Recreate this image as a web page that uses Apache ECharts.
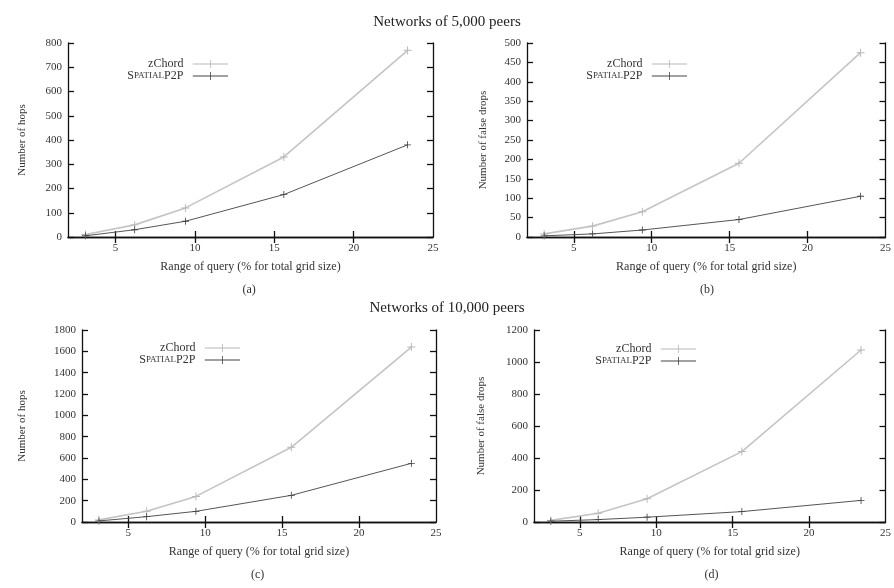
<!DOCTYPE html>
<html>
<head>
<meta charset="utf-8">
<script src="https://cdn.jsdelivr.net/npm/echarts@6/dist/echarts.min.js"></script>
<style>
  html, body { margin: 0; padding: 0; background: #fff; }
  #chart { width: 894px; height: 588px; }
</style>
</head>
<body>
<div id="chart"></div>
<script>
// query range (% for total grid size)
const queryRange = [3.1, 6.2, 9.4, 15.6, 23.4];
const xTicks = [5, 10, 15, 20, 25];

// (a) hops, 5,000 peers
const hops5kZChord = [10, 50, 120, 330, 770];
const hops5kSpatial = [5, 30, 65, 175, 380];
// (b) false drops, 5,000 peers
const drops5kZChord = [8, 28, 65, 190, 475];
const drops5kSpatial = [3, 8, 18, 45, 105];
// (c) hops, 10,000 peers
const hops10kZChord = [20, 100, 240, 700, 1640];
const hops10kSpatial = [10, 50, 100, 250, 550];
// (d) false drops, 10,000 peers
const drops10kZChord = [10, 55, 145, 440, 1075];
const drops10kSpatial = [5, 15, 30, 65, 135];

const FONT = "Liberation Serif";
const W = 894;
const plusSym = "path://M0,4.4h10v1.2h-10z M4.4,0h1.2v10h-1.2z";
const legendIcon = "path://M0,4.5h44v1h-44z M21.5,0h1v10h-1z";

// grid layout, axis range and labels for each panel
const panels = [
  { box: [68, 43, 365, 194], yMax: 800, yStep: 100, yName: "Number of hops", nameGap: 40,
    z: hops5kZChord, s: hops5kSpatial, legendRight: 233, legendTop: 53, tag: "(a)", tagY: 284 },
  { box: [527, 43, 362, 194], yMax: 500, yStep: 50, yName: "Number of false drops", nameGap: 38,
    z: drops5kZChord, s: drops5kSpatial, legendRight: 692, legendTop: 53, tag: "(b)", tagY: 284 },
  { box: [82, 330, 354, 192], yMax: 1800, yStep: 200, yName: "Number of hops", nameGap: 54,
    z: hops10kZChord, s: hops10kSpatial, legendRight: 245, legendTop: 337, tag: "(c)", tagY: 569 },
  { box: [534, 330, 357, 192], yMax: 1200, yStep: 200, yName: "Number of false drops", nameGap: 47,
    z: drops10kZChord, s: drops10kSpatial, legendRight: 701, legendTop: 338, tag: "(d)", tagY: 569 }
];

const grid = [], xAxis = [], yAxis = [], series = [], legend = [], graphic = [];
const axisLine = { show: true, lineStyle: { color: "#111", width: 1.3 } };
const tick = { show: true, inside: true, length: 6, lineStyle: { color: "#111", width: 1.3 } };
const label = { fontFamily: FONT, fontSize: 11, color: "#333", formatter: v => String(v) };

panels.forEach((p, i) => {
  const [left, top, width, height] = p.box;
  grid.push({ left: left, top: top, width: width, height: height });
  // bottom and top x axes (gnuplot mirrors ticks)
  xAxis.push({
    type: "value", gridIndex: i, min: 2, max: 25, position: "bottom",
    name: "Range of query (% for total grid size)", nameLocation: "middle", nameGap: 24,
    nameTextStyle: { fontFamily: FONT, fontSize: 12, color: "#333" },
    axisLine: axisLine, splitLine: { show: false },
    axisTick: Object.assign({ customValues: [5, 10, 15, 20] }, tick),
    axisLabel: Object.assign({ customValues: xTicks, margin: 6 }, label)
  });
  xAxis.push({
    type: "value", gridIndex: i, min: 2, max: 25, position: "top",
    axisLine: axisLine, splitLine: { show: false },
    axisTick: Object.assign({ customValues: [5, 10, 15, 20] }, tick),
    axisLabel: { show: false }
  });
  yAxis.push({
    type: "value", gridIndex: i, min: 0, max: p.yMax, interval: p.yStep, position: "left",
    name: p.yName, nameLocation: "middle", nameGap: p.nameGap,
    nameTextStyle: { fontFamily: FONT, fontSize: 11, color: "#333" },
    axisLine: axisLine, splitLine: { show: false }, axisTick: tick,
    axisLabel: Object.assign({ margin: 6 }, label)
  });
  yAxis.push({
    type: "value", gridIndex: i, min: 0, max: p.yMax, interval: p.yStep, position: "right",
    axisLine: axisLine, splitLine: { show: false }, axisTick: tick,
    axisLabel: { show: false }
  });

  series.push({
    name: "zChord", type: "line", xAxisIndex: 2 * i, yAxisIndex: 2 * i,
    data: queryRange.map((x, k) => [x, p.z[k]]),
    color: "#c4c4c4", lineStyle: { width: 1.6, color: "#c4c4c4" },
    symbol: plusSym, symbolSize: 8, itemStyle: { color: "#b8b8b8" }, z: 2
  });
  series.push({
    name: "SpatialP2P", type: "line", xAxisIndex: 2 * i, yAxisIndex: 2 * i,
    data: queryRange.map((x, k) => [x, p.s[k]]),
    color: "#555", lineStyle: { width: 1, color: "#555" },
    symbol: plusSym, symbolSize: 7, itemStyle: { color: "#444" }, z: 3
  });

  // one legend per row so the samples line up and the text sits right-aligned
  ["zChord", "SpatialP2P"].forEach((name, r) => {
    legend.push({
      data: [name], selectedMode: false, align: "right",
      right: W - p.legendRight, top: p.legendTop + r * 12,
      itemWidth: 44, itemHeight: 8, itemGap: 6, icon: legendIcon,
      textStyle: {
        fontFamily: FONT, color: "#333",
        rich: { big: { fontFamily: FONT, fontSize: 12, color: "#333" },
                sm: { fontFamily: FONT, fontSize: 9, color: "#333" } }
      },
      formatter: n => n === "zChord" ? "{big|zChord}" : "{big|S}{sm|PATIAL}{big|P2P}"
    });
  });

  graphic.push({
    type: "text", left: left + width / 2 - 8, top: p.tagY,
    style: { text: p.tag, fontFamily: FONT, fontSize: 12, fill: "#333" }
  });
});

graphic.push({
  type: "text", left: "center", top: 15,
  style: { text: "Networks of 5,000 peers", fontFamily: FONT, fontSize: 15, fill: "#222" }
});
graphic.push({
  type: "text", left: "center", top: 301,
  style: { text: "Networks of 10,000 peers", fontFamily: FONT, fontSize: 15, fill: "#222" }
});

const myChart = echarts.init(document.getElementById("chart"), null, { renderer: "canvas" });
myChart.setOption({
  animation: false,
  grid: grid,
  xAxis: xAxis,
  yAxis: yAxis,
  legend: legend,
  series: series,
  graphic: graphic
});
</script>
</body>
</html>
